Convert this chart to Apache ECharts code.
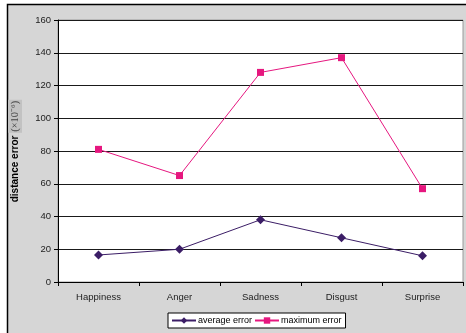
<!DOCTYPE html>
<html><head><meta charset="utf-8">
<script src="https://cdn.jsdelivr.net/npm/echarts@6/dist/echarts.min.js"></script>
<style>html,body{margin:0;padding:0;background:#fff}#c{width:466px;height:333px}</style>
</head><body><div id="c"></div>
<script>
const categories = ['Happiness', 'Anger', 'Sadness', 'Disgust', 'Surprise'];
const averageError = [16.5, 20, 38, 27, 16];
const maximumError = [81, 65, 128, 137, 57];
const yTicks = [0, 20, 40, 60, 80, 100, 120, 140, 160];

const chart = echarts.init(document.getElementById('c'), null, {renderer: 'canvas'});
const font = 'Arial, "Liberation Sans", sans-serif';
chart.setOption({
  animation: false,
  backgroundColor: '#fff',
  graphic: [{
    type: 'rect', z: -10, silent: true,
    shape: {x: 7.5, y: 4.5, width: 470, height: 340},
    style: {fill: '#d6d6d6', stroke: '#000', lineWidth: 1.5}
  }],
  grid: {left: 57, top: 20, right: 3, bottom: 51, show: true, backgroundColor: '#fff', borderColor: '#9a9a9a', borderWidth: 1},
  legend: {
    left: 168, top: 313, itemWidth: 24, itemHeight: 8, itemGap: 2,
    backgroundColor: '#fff', borderColor: '#000', borderWidth: 1, padding: [3, 4, 3, 3],
    textStyle: {fontFamily: font, fontSize: 9, color: '#000', padding: [0, 0, 0, -3]},
    data: ['average error', 'maximum error']
  },
  xAxis: {
    type: 'category', data: categories, boundaryGap: true,
    axisLine: {lineStyle: {color: '#000', width: 1}},
    axisTick: {show: true, length: 4, lineStyle: {color: '#000'}},
    axisLabel: {fontFamily: font, fontSize: 9.5, color: '#222', margin: 10}
  },
  yAxis: {
    type: 'value', min: yTicks[0], max: yTicks[yTicks.length - 1], interval: 20,
    name: '{b|distance error }{g|(×10⁻⁶)}',
    nameLocation: 'middle', nameGap: 36, nameRotate: 90,
    nameTextStyle: {
      rich: {
        b: {fontFamily: font, fontSize: 10, fontWeight: 'bold', color: '#000'},
        g: {fontFamily: '"Liberation Serif", serif', fontSize: 10.5, color: '#444', backgroundColor: '#c2c2c2', padding: [2, 1, 1, 1]}
      }
    },
    axisLine: {show: true, lineStyle: {color: '#000', width: 1}},
    axisTick: {show: true, length: 4, lineStyle: {color: '#000'}},
    axisLabel: {fontFamily: font, fontSize: 9.5, color: '#222', margin: 7},
    splitLine: {show: true, lineStyle: {color: '#1a1a1a', width: 1}}
  },
  series: [
    {
      name: 'average error', type: 'line', data: averageError,
      symbol: 'diamond', symbolSize: 9,
      itemStyle: {color: '#3b1d66'},
      lineStyle: {color: '#3b1d66', width: 1}
    },
    {
      name: 'maximum error', type: 'line', data: maximumError,
      symbol: 'rect', symbolSize: 7,
      itemStyle: {color: '#e6177f'},
      lineStyle: {color: '#e6177f', width: 1}
    }
  ]
});
</script></body></html>
